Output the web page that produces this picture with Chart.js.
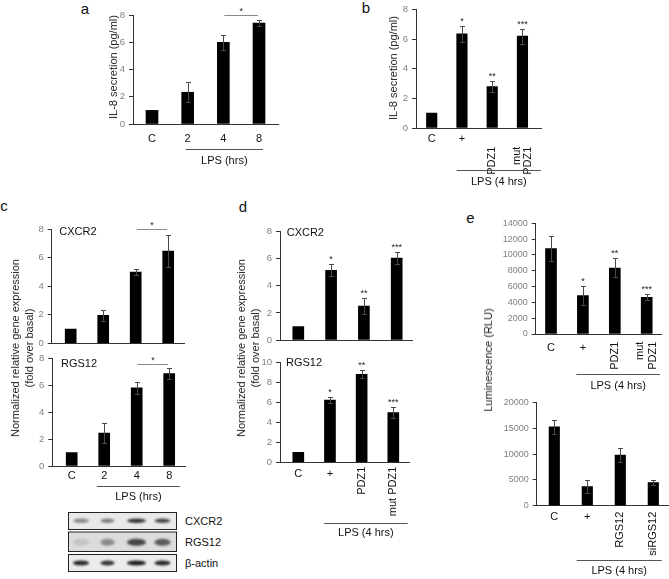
<!DOCTYPE html>
<html>
<head>
<meta charset="utf-8">
<script src="https://cdn.jsdelivr.net/npm/chart.js@4.4.1/dist/chart.umd.min.js"></script>
<style>
html, body { margin: 0; padding: 0; background: #fff; }
#fig { position: relative; width: 669px; height: 579px; overflow: hidden; font-family: "Liberation Sans", Arial, sans-serif; }
#fig canvas { position: absolute; }
.txt { position: absolute; white-space: nowrap; color: #111; line-height: 1; transform: translate(-50%, -50%); }
.ylab { position: absolute; white-space: nowrap; color: #222; font-size: 11px; line-height: 14px; text-align: center;
        transform: translate(-50%, -50%) rotate(-90deg); }
</style>
</head>
<body>
<div id="fig"></div>
<script>
// ---- data ----
const lpsHours = ['C', '2', '4', '8'];
const treatments = ['C', '+', 'PDZ1', ['mut', 'PDZ1']];
const treatmentsD = ['C', '+', 'PDZ1', 'mut PDZ1'];
const rgsTreatments = ['C', '+', 'RGS12', 'siRGS12'];
const treatmentStars = ['', '*', '**', '***'];

// a: IL-8 secretion vs LPS time
const il8ByTime = [1, 2.33, 6.0, 7.4];
const il8ByTimeErr = [0, 0.75, 0.55, 0.2];
// b: IL-8 secretion vs treatment
const il8ByTreatment = [1, 6.35, 2.8, 6.2];
const il8ByTreatmentErr = [0, 0.55, 0.4, 0.5];
// c: gene expression vs LPS time
const cxcr2ByTime = [1, 1.96, 5.0, 6.48];
const cxcr2ByTimeErr = [0, 0.38, 0.22, 1.15];
const rgs12ByTime = [1, 2.44, 5.8, 6.87];
const rgs12ByTimeErr = [0, 0.75, 0.45, 0.43];
// d: gene expression vs treatment
const cxcr2ByTreatment = [1, 5.15, 2.5, 6.05];
const cxcr2ByTreatmentErr = [0, 0.45, 0.6, 0.45];
const rgs12ByTreatment = [1, 6.22, 8.8, 4.97];
const rgs12ByTreatmentErr = [0, 0.3, 0.4, 0.55];
// e: luminescence
const lumiPdz = [10800, 4850, 8350, 4650];
const lumiPdzErr = [1600, 1200, 1200, 350];
const lumiRgs = [15300, 3700, 9850, 4500];
const lumiRgsErr = [1400, 1200, 1300, 500];

// western blot band strengths (0..1)
const blotRows = ['CXCR2', 'RGS12', 'β-actin'];
const blotBands = [
  [0.45, 0.5, 0.85, 0.75],
  [0.12, 0.4, 0.75, 0.65],
  [0.9, 0.85, 0.95, 0.9]
];

const FONT = '"Liberation Sans", Arial, sans-serif';
Chart.defaults.font.family = FONT;
const fig = document.getElementById('fig');

function addText(txt, x, y, size, cls) {
  const d = document.createElement('div');
  d.className = cls || 'txt';
  d.style.left = x + 'px';
  d.style.top = y + 'px';
  if (size) d.style.fontSize = size + 'px';
  d.innerHTML = txt;
  fig.appendChild(d);
}

// error bars, stars, under-axis labels, LPS bracket
function makeExtras(values, err, o) {
  return {
    id: 'extras',
    afterDraw(chart) {
      const ctx = chart.ctx, xs = chart.scales.x, ys = chart.scales.y, area = chart.chartArea;
      const cx = i => xs.getPixelForValue(i);
      ctx.save();
      ctx.strokeStyle = '#4a4a4a';
      ctx.lineWidth = 1;
      values.forEach((v, i) => {
        const e = err[i];
        if (!e) return;
        const x = Math.round(cx(i)) + 0.5;
        const y1 = Math.round(ys.getPixelForValue(v + e)) + 0.5;
        const y2 = Math.round(ys.getPixelForValue(v - e)) + 0.5;
        ctx.beginPath();
        ctx.moveTo(x, y1); ctx.lineTo(x, y2);
        ctx.moveTo(x - 2.5, y1); ctx.lineTo(x + 2.5, y1);
        ctx.moveTo(x - 2.5, y2); ctx.lineTo(x + 2.5, y2);
        ctx.stroke();
      });

      ctx.fillStyle = '#222';
      ctx.textAlign = 'center';
      ctx.textBaseline = 'alphabetic';
      ctx.font = '9px ' + FONT;
      if (o.stars) {
        o.stars.forEach((s, i) => {
          if (!s) return;
          ctx.fillText(s, cx(i), ys.getPixelForValue(values[i] + err[i]) - 2);
        });
      }
      if (o.sig) {
        const ly = Math.round(ys.getPixelForValue(o.sig.value)) + 0.5;
        ctx.strokeStyle = '#8a8a8a';
        ctx.beginPath();
        ctx.moveTo(cx(o.sig.from) + 1, ly);
        ctx.lineTo(cx(o.sig.to) - 1, ly);
        ctx.stroke();
        ctx.fillText('*', (cx(o.sig.from) + cx(o.sig.to)) / 2, ly - 1.5);
      }

      if (o.gene) {
        ctx.font = '11px ' + FONT;
        ctx.fillStyle = '#111';
        ctx.textAlign = 'left';
        ctx.textBaseline = 'middle';
        ctx.fillText(o.gene.text, area.left + o.gene.dx, area.top + o.gene.dy);
      }

      if (o.labels) {
        ctx.font = '11px ' + FONT;
        ctx.fillStyle = '#111';
        o.labels.forEach((lab, i) => {
          const x = cx(i);
          if (typeof lab === 'string' && lab.length === 1) {
            ctx.textAlign = 'center';
            ctx.textBaseline = 'middle';
            ctx.fillText(lab, x, area.bottom + o.labY);
          } else {
            const lines = Array.isArray(lab) ? lab : [lab];
            const gap = o.lineGap || 12;
            ctx.save();
            ctx.translate(x, area.bottom + o.rotY);
            ctx.rotate(-Math.PI / 2);
            ctx.textAlign = 'right';
            ctx.textBaseline = 'middle';
            lines.forEach((t, k) => {
              ctx.fillText(t, 0, (k - (lines.length - 1) / 2) * gap);
            });
            ctx.restore();
          }
        });
      }

      if (o.lps) {
        const p = o.lps;
        const x1 = cx(p.from) + p.d1, x2 = cx(p.to) + p.d2;
        const ly = Math.round(area.bottom + p.lineY) + 0.5;
        ctx.strokeStyle = '#555';
        ctx.beginPath();
        ctx.moveTo(x1, ly); ctx.lineTo(x2, ly);
        ctx.stroke();
        ctx.font = '11px ' + FONT;
        ctx.fillStyle = '#111';
        ctx.textAlign = 'center';
        ctx.textBaseline = 'middle';
        ctx.fillText(p.text, (x1 + x2) / 2, area.bottom + p.textY);
      }
      ctx.restore();
    }
  };
}

function panelChart(L, values, err, o) {
  const left = Math.round(L.ax - L.M), top = Math.round(L.ty - L.T);
  const W = Math.round(L.rx + L.R - left), H = Math.round(L.by + L.B - top);
  const cv = document.createElement('canvas');
  cv.width = W; cv.height = H;
  cv.style.left = left + 'px'; cv.style.top = top + 'px';
  cv.style.width = W + 'px'; cv.style.height = H + 'px';
  fig.appendChild(cv);
  const yw = L.ax - left, xh = H - (L.by - top);
  return new Chart(cv, {
    type: 'bar',
    data: {
      datasets: [{
        data: values.map((v, i) => ({ x: i, y: v })),
        backgroundColor: '#000',
        borderWidth: 0,
        barThickness: L.bw
      }]
    },
    options: {
      responsive: false,
      animation: false,
      events: [],
      layout: { padding: { left: 0, top: L.ty - top, right: W - (L.rx - left), bottom: 0 } },
      plugins: { legend: { display: false }, tooltip: { enabled: false } },
      scales: {
        x: {
          type: 'linear', offset: false, bounds: 'data',
          min: -(L.c0 - L.ax) / L.dc, max: (L.rx - L.c0) / L.dc,
          ticks: { display: false },
          grid: { display: false },
          border: { display: true, color: '#333' },
          afterFit: s => { s.height = xh; s.paddingLeft = 0; s.paddingRight = 0; }
        },
        y: {
          min: 0, max: L.ymax,
          ticks: { stepSize: L.step, color: '#808080', font: { size: L.fs || 9.5 }, padding: 4, callback: v => String(v) },
          grid: { drawOnChartArea: false, tickLength: 4, color: '#333' },
          border: { display: true, color: '#333' },
          afterFit: s => { s.width = yw; s.paddingTop = 0; s.paddingBottom = 0; }
        }
      }
    },
    plugins: [makeExtras(values, err, o)]
  });
}

// ---- panel a ----
panelChart({ ax: 133, ty: 15, by: 124, rx: 278, c0: 152, dc: 35.67, ymax: 8, step: 2, bw: 12, M: 25, R: 5, T: 15, B: 50 },
  il8ByTime, il8ByTimeErr,
  { labels: lpsHours, labY: 15, sig: { from: 2, to: 3, value: 8 },
    lps: { text: 'LPS (hrs)', from: 1, d1: -2, to: 3, d2: 4, lineY: 25, textY: 37 } });

// ---- panel b ----
panelChart({ ax: 416, ty: 9.5, by: 128, rx: 541, c0: 431.7, dc: 30.25, ymax: 8, step: 2, bw: 10.5, M: 25, R: 8, T: 9, B: 62 },
  il8ByTreatment, il8ByTreatmentErr,
  { labels: treatments, labY: 11.3, rotY: 18.7, lineGap: 11, stars: treatmentStars,
    lps: { text: 'LPS (4 hrs)', from: 1, d1: -5.3, to: 3, d2: 18.5, lineY: 42, textY: 53.7 } });

// ---- panel c ----
panelChart({ ax: 51.7, ty: 229.3, by: 343.3, rx: 184, c0: 70.7, dc: 32.5, ymax: 8, step: 2, bw: 11, M: 25, R: 5, T: 14, B: 3 },
  cxcr2ByTime, cxcr2ByTimeErr,
  { gene: { text: 'CXCR2', dx: 7.6, dy: 3 }, sig: { from: 2, to: 3, value: 8 } });
panelChart({ ax: 52.3, ty: 358.3, by: 466, rx: 185, c0: 71.7, dc: 32.5, ymax: 8, step: 2, bw: 11, M: 25, R: 5, T: 8, B: 38 },
  rgs12ByTime, rgs12ByTimeErr,
  { gene: { text: 'RGS12', dx: 8.7, dy: 5.7 }, sig: { from: 2, to: 3, value: 7.58 }, labels: lpsHours, labY: 10,
    lps: { text: 'LPS (hrs)', from: 1, d1: -7.3, to: 3, d2: 10.7, lineY: 20, textY: 31.3 } });

// ---- panel d ----
panelChart({ ax: 280, ty: 231.7, by: 340, rx: 412.7, c0: 298.3, dc: 32.8, ymax: 8, step: 2, bw: 11, M: 25, R: 5, T: 12, B: 3 },
  cxcr2ByTreatment, cxcr2ByTreatmentErr,
  { gene: { text: 'CXCR2', dx: 6.7, dy: 1.6 }, stars: treatmentStars });
panelChart({ ax: 280, ty: 362.3, by: 462.3, rx: 409, c0: 298.3, dc: 31.67, ymax: 10, step: 2, bw: 11, M: 25, R: 5, T: 8, B: 78 },
  rgs12ByTreatment, rgs12ByTreatmentErr,
  { gene: { text: 'RGS12', dx: 6, dy: 1 }, stars: treatmentStars, labels: treatmentsD, labY: 11.7, rotY: 4.4,
    lps: { text: 'LPS (4 hrs)', from: 1, d1: -6, to: 3, d2: 14.4, lineY: 61, textY: 71 } });

// ---- panel e ----
panelChart({ ax: 535.7, ty: 223.3, by: 334, rx: 661.7, c0: 551, dc: 31.9, ymax: 14000, step: 2000, bw: 11, M: 45, R: 6, T: 10, B: 58, fs: 9 },
  lumiPdz, lumiPdzErr,
  { stars: treatmentStars, labels: treatments, labY: 14.3, rotY: 7.7, lineGap: 13.5,
    lps: { text: 'LPS (4 hrs)', from: 1, d1: -6.5, to: 3, d2: 13.3, lineY: 40, textY: 51.5 } });
panelChart({ ax: 536.7, ty: 402.7, by: 505.7, rx: 668, c0: 554.3, dc: 33, ymax: 20000, step: 5000, bw: 10.5, M: 45, R: 1, T: 8, B: 72, fs: 9 },
  lumiRgs, lumiRgsErr,
  { labels: rgsTreatments, labY: 11, rotY: 6,
    lps: { text: 'LPS (4 hrs)', from: 1, d1: -10.6, to: 3, d2: 8.4, lineY: 54.3, textY: 65 } });

// ---- text: panel letters and axis titles ----
addText('a', 85, 8, 15);
addText('b', 366, 7, 15);
addText('c', 4, 205, 15);
addText('d', 243, 206, 15);
addText('e', 470.5, 216.5, 15);
addText('IL-8 secretion (pg/ml)', 113, 67, null, 'ylab');
addText('IL-8 secretion (pg/ml)', 393.3, 67.5, null, 'ylab');
addText('Normalized relative gene expression<br>(fold over basal)', 22, 348, null, 'ylab');
addText('Normalized relative gene expression<br>(fold over basal)', 248, 348, null, 'ylab');
addText('Luminescence (RLU)', 488, 360, null, 'ylab');

// ---- western blot (drawn image, not a chart) ----
(function drawBlot() {
  const bx = 60, by = 505;
  const cv = document.createElement('canvas');
  cv.width = 120; cv.height = 72;
  cv.style.left = bx + 'px'; cv.style.top = by + 'px';
  fig.appendChild(cv);
  const ctx = cv.getContext('2d');
  ctx.translate(-bx, -by);
  const rows = [
    { y0: 512.5, y1: 529.5, band: 520.7, h: 2.2, bg: '#e9e9e9' },
    { y0: 532, y1: 551.5, band: 542.3, h: 3.5, bg: '#dcdcdc' },
    { y0: 554.5, y1: 571.5, band: 563, h: 2.6, bg: '#ececec' }
  ];
  const lanes = [81, 107.5, 136.5, 162.5];
  const widths = [8, 7, 9.5, 8];
  rows.forEach((r, ri) => {
    ctx.fillStyle = r.bg;
    ctx.fillRect(68.5, r.y0, 108, r.y1 - r.y0);
    ctx.save();
    ctx.beginPath();
    ctx.rect(68.5, r.y0, 108, r.y1 - r.y0);
    ctx.clip();
    ctx.filter = 'blur(1px)';
    lanes.forEach((lx, li) => {
      const a = blotBands[ri][li];
      ctx.fillStyle = 'rgba(20,20,20,' + a + ')';
      ctx.beginPath();
      ctx.ellipse(lx, r.band, widths[li], r.h, 0, 0, Math.PI * 2);
      ctx.fill();
    });
    ctx.restore();
    ctx.strokeStyle = '#222';
    ctx.lineWidth = 1;
    ctx.strokeRect(68.5, r.y0, 108, r.y1 - r.y0);
  });
})();
addText('CXCR2', 185, 521, 11, 'txt');
addText('RGS12', 185, 542, 11, 'txt');
addText('β-actin', 185, 563, 11, 'txt');
document.querySelectorAll('.txt').forEach(d => {
  if (['CXCR2', 'RGS12', 'β-actin'].includes(d.textContent)) d.style.transform = 'translate(0, -50%)';
});
</script>
</body>
</html>
